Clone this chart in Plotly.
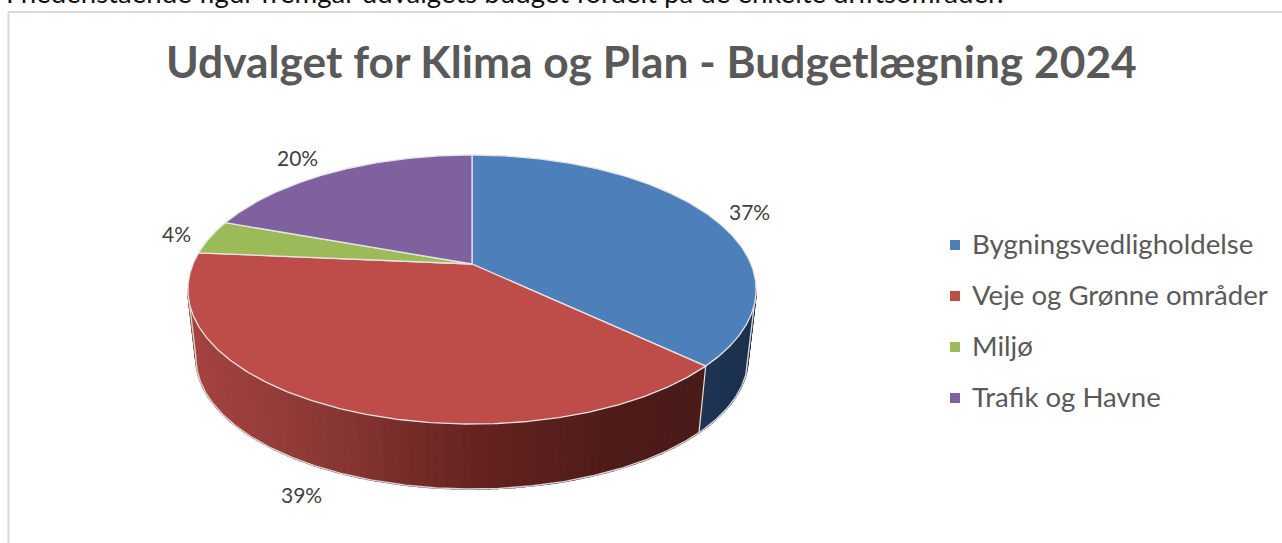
import math
import plotly.graph_objects as go

# ---- data ----
categories = ["Bygningsvedligholdelse", "Veje og Grønne områder", "Miljø", "Trafik og Havne"]
values = [37.0, 39.4, 4.1, 19.5]
top_colors = ["#4D7FBB", "#BE4D4A", "#9BBB59", "#7F61A0"]
title_text = "Udvalget for Klima og Plan - Budgetlægning 2024"
intro_text = "I nedenstående figur fremgår udvalgets budget fordelt på de enkelte driftsområder."

# ---- geometry of the tilted disc (pixel-like axis units) ----
CX, TOP_Y, BOT_Y = 472.0, 264.0, 333.5
K = 0.1896
TOP_A, BOT_A = 129.7, 126.0
TOP_B, BOT_B = 279.0, 271.0
RIM_DEG = 100.9
label_xy = [(749.5, 211.5), (301.5, 494.5), (176, 233.5), (297, 157.5)]
legend_ys = [245, 296, 347, 398]
legend_text_ys = [243.5, 294.5, 345.5, 396.5]


def proj(deg, level="top"):
    t = math.radians(deg)
    u, v = math.sin(t), math.cos(t)
    d = 1 + K * v
    if level == "top":
        return CX + TOP_B * u / d, TOP_Y - TOP_A * v / d
    return CX + BOT_B * u / d, BOT_Y - BOT_A * v / d


def arc(a, b, level="top", n=None):
    n = n or max(2, int(abs(b - a) * 2))
    return [proj(a + (b - a) * i / n, level) for i in range(n + 1)]


def mix(stops, x):
    for (x0, c0), (x1, c1) in zip(stops, stops[1:]):
        if x <= x1:
            f = max(0.0, (x - x0) / (x1 - x0))
            return "rgb(%d,%d,%d)" % tuple(c0[i] + (c1[i] - c0[i]) * f for i in range(3))
    return "rgb(%d,%d,%d)" % stops[-1][1]


fig = go.Figure()


def poly(pts, fill, line=None, width=0, name=None):
    xs = [p[0] for p in pts] + [pts[0][0]]
    ys = [p[1] for p in pts] + [pts[0][1]]
    fig.add_trace(go.Scatter(
        x=xs, y=ys, mode="lines", fill="toself", fillcolor=fill,
        line=dict(color=line or fill, width=width if line else 1.6),
        hoverinfo="text" if name else "skip", text=name, showlegend=False))


total = sum(values)
edges = [0.0]
for val in values:
    edges.append(edges[-1] + val / total * 360.0)

# walls: only the part of the rim facing the viewer
wall_stops = {
    0: [(700, (30, 54, 84)), (760, (26, 48, 76))],
    1: [(190, (166, 68, 64)), (330, (138, 56, 53)), (472, (103, 36, 33)),
        (600, (80, 29, 26)), (700, (74, 27, 25))],
}
for i in (0, 1):
    a = max(edges[i], RIM_DEG)
    b = min(edges[i + 1], 360 - RIM_DEG)
    strips = max(1, int((b - a) / 1.5))
    for s in range(strips):
        a0 = a + (b - a) * s / strips
        a1 = a + (b - a) * (s + 1) / strips
        pts = arc(a0, a1, "top", 3) + arc(a1, a0, "bot", 3)
        xm = sum(p[0] for p in pts) / len(pts)
        poly(pts, mix(wall_stops[i], xm))

# outer silhouette of the wall
sil = arc(RIM_DEG, 360 - RIM_DEG, "bot")
start_top, start_bot = proj(RIM_DEG), proj(RIM_DEG, "bot")
end_top, end_bot = proj(360 - RIM_DEG), proj(360 - RIM_DEG, "bot")
sx = [start_top[0]] + [p[0] for p in sil] + [end_top[0]]
sy = [start_top[1]] + [p[1] for p in sil] + [end_top[1]]
fig.add_trace(go.Scatter(x=sx, y=sy, mode="lines", line=dict(color="#D4D4D4", width=1.4),
                         hoverinfo="skip", showlegend=False))
# wall seam between the blue and red slices
seam = [proj(edges[1]), proj(edges[1], "bot")]
fig.add_trace(go.Scatter(x=[p[0] for p in seam], y=[p[1] for p in seam], mode="lines",
                         line=dict(color="#E4E4E4", width=1.2), hoverinfo="skip", showlegend=False))

# top face
for i, cat in enumerate(categories):
    pts = [(CX, TOP_Y)] + arc(edges[i], edges[i + 1])
    poly(pts, top_colors[i], line="#E4E4E4", width=1.3, name=cat)

# percentage labels
for val, (x, y) in zip(values, label_xy):
    fig.add_annotation(x=x, y=y, text=f"{round(val / total * 100)}%", showarrow=False,
                       xanchor="center", yanchor="middle",
                       font=dict(family="Lato", size=21, color="#404040"))

# legend
fig.add_trace(go.Scatter(x=[955] * 4, y=legend_ys, mode="markers",
                         marker=dict(symbol="square", size=10, color=top_colors),
                         hoverinfo="skip", showlegend=False))
for cat, y in zip(categories, legend_text_ys):
    fig.add_annotation(x=970, y=y, text=cat, showarrow=False, xanchor="left", yanchor="middle",
                       font=dict(family="Lato", size=27.6, color="#595959"))

# title and the line of body text, cut by the top edge as in the source picture
fig.add_annotation(x=651.5, y=60.5, text=f"<b>{title_text}</b>", showarrow=False, xanchor="center",
                   yanchor="middle", font=dict(family="Lato", size=44.3, color="#595959"))
fig.add_annotation(x=4, y=0, yshift=8, text=intro_text, showarrow=False, xanchor="left", yanchor="middle",
                   font=dict(family="Lato", size=27.6, color="#111111"))

fig.update_layout(
    width=1282, height=543, margin=dict(l=0, r=0, t=0, b=0),
    paper_bgcolor="white", plot_bgcolor="white", showlegend=False,
    xaxis=dict(range=[0, 1282], visible=False, fixedrange=True),
    yaxis=dict(range=[543, 0], visible=False, fixedrange=True),
    shapes=[dict(type="rect", x0=8.5, y0=12, x1=1300, y1=560, line=dict(color="#D9D9D9", width=2),
                 fillcolor="rgba(0,0,0,0)", layer="below")],
)
fig.write_html("out.html", config=dict(displayModeBar=False),
               post_script="document.body.style.margin='0';document.body.style.overflow='hidden';")
